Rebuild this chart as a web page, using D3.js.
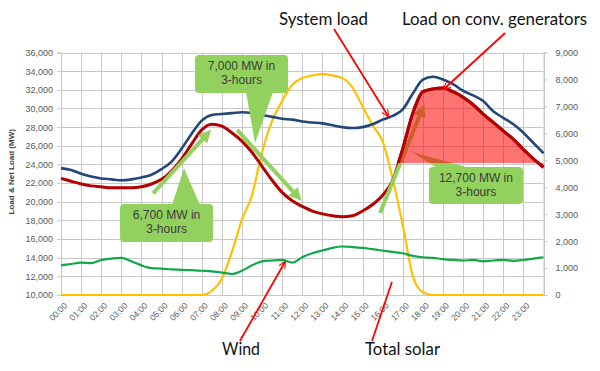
<!DOCTYPE html>
<html>
<head>
<meta charset="utf-8">
<script src="https://cdn.jsdelivr.net/npm/d3@7/dist/d3.min.js"></script>
<style>
body { margin: 0; background: #fff; }
</style>
</head>
<body>
<div id="svg-container"></div>
<script>
// half-hour steps through the day
const hours = d3.range(0, 24.01, 0.5);

// left axis (MW)
const systemLoad = [
    23600, 23400, 23000, 22700, 22500, 22400, 22300, 22400, 22600, 22900,
    23500, 24300, 25700, 27300, 28700, 29300, 29400, 29500, 29600, 29500,
    29300, 29100, 28900, 28800, 28600, 28500, 28400, 28200, 28000, 27900,
    28000, 28300, 28800, 29200, 29900, 31600, 33100, 33400, 33100, 32600,
    31900, 31400, 30800, 29700, 29000, 28300, 27400, 26300, 25200
];
const netLoad = [
    22500, 22200, 21900, 21700, 21600, 21500, 21500, 21500, 21600, 21900,
    22400, 23300, 24600, 26200, 27700, 28300, 28100, 27400, 26500, 25300,
    23800, 22300, 21000, 20100, 19500, 19000, 18700, 18500, 18400, 18500,
    19000, 19700, 20700, 22300, 25700, 29500, 31800, 32100, 32200, 31800,
    31200, 30400, 29400, 28500, 27600, 26700, 25600, 24600, 23700
];

// right axis (MW)
const solar = [
    0, 0, 0, 0, 0, 0, 0, 0, 0, 0,
    0, 0, 0, 0, 0, 150, 600, 1600, 2800, 3700,
    5300, 6450, 7200, 7800, 8050, 8150, 8200, 8150, 8050, 7700,
    7000, 6300, 5700, 4300, 2600, 700, 100, 0, 0, 0,
    0, 0, 0, 0, 0, 0, 0, 0, 0
];
const wind = [
    1100, 1150, 1200, 1180, 1300, 1350, 1380, 1250, 1100, 1000,
    980, 950, 930, 920, 900, 880, 830, 780, 900, 1100,
    1250, 1280, 1300, 1200, 1400, 1550, 1650, 1750, 1800, 1780,
    1750, 1700, 1650, 1600, 1550, 1450, 1400, 1380, 1330, 1300,
    1280, 1300, 1250, 1280, 1300, 1270, 1300, 1350, 1400
];

const hourLabels = [
    '00:00', '01:00', '02:00', '03:00', '04:00', '05:00', '06:00', '07:00',
    '08:00', '09:00', '10:00', '11:00', '12:00', '13:00', '14:00', '15:00',
    '16:00', '17:00', '18:00', '19:00', '20:00', '21:00', '22:00', '23:00'
];
const leftTicks = [10000, 12000, 14000, 16000, 18000, 20000, 22000, 24000,
    26000, 28000, 30000, 32000, 34000, 36000];
const rightTicks = [0, 1000, 2000, 3000, 4000, 5000, 6000, 7000, 8000, 9000];

// net load level where the red "conventional generators" area sits on
const rampBase = 24150;

const svgWidth = 600;
const svgHeight = 371;
const plot = { left: 61, right: 543.5, top: 52.5, bottom: 295 };

const svg = d3.select('#svg-container')
.append('svg')
.attr('width', svgWidth)
.attr('height', svgHeight)
.style('font-family', '"Liberation Sans", Arial, sans-serif');

svg.append('rect').attr('width', svgWidth).attr('height', svgHeight).attr('fill', '#fff');

const x = d3.scaleLinear().domain([0, 24]).range([plot.left, plot.right]);
const yL = d3.scaleLinear().domain([10000, 36000]).range([plot.bottom, plot.top]);
const yR = d3.scaleLinear().domain([0, 9000]).range([plot.bottom, plot.top]);

// grid
const grid = svg.append('g').attr('stroke', '#c8c8c8').attr('stroke-width', 1);
grid.selectAll('.h').data(leftTicks).enter().append('line')
.attr('x1', plot.left).attr('x2', plot.right)
.attr('y1', d => Math.round(yL(d)) + 0.5).attr('y2', d => Math.round(yL(d)) + 0.5);
grid.selectAll('.v').data(d3.range(25)).enter().append('line')
.attr('y1', plot.top).attr('y2', plot.bottom)
.attr('x1', d => Math.round(x(d)) + 0.5).attr('x2', d => Math.round(x(d)) + 0.5);

// axes
const styleAxis = (g) => {
    g.select('.domain').attr('stroke', '#c8c8c8');
    g.selectAll('.tick line').attr('stroke', '#c8c8c8');
    g.selectAll('text').attr('fill', '#595959').style('font-size', '9px')
    .style('font-family', '"Liberation Sans", Arial, sans-serif');
};

svg.append('g')
.attr('transform', `translate(${plot.left},0)`)
.call(d3.axisLeft(yL).tickValues(leftTicks).tickSize(4).tickPadding(4).tickFormat(d3.format(',')))
.call(styleAxis);

svg.append('g')
.attr('transform', `translate(${plot.right},0)`)
.call(d3.axisRight(yR).tickValues(rightTicks).tickSize(4).tickPadding(8).tickFormat(d3.format(',')))
.call(styleAxis);

const xAxis = svg.append('g')
.attr('transform', `translate(0,${plot.bottom})`)
.call(d3.axisBottom(x).tickValues(d3.range(24)).tickSize(0).tickFormat(d => hourLabels[d]))
.call(styleAxis);
xAxis.select('.domain').remove();
xAxis.selectAll('text')
.attr('text-anchor', 'end')
.attr('dy', '0.35em')
.attr('transform', 'translate(2,7) rotate(-45)')
.style('font-size', '8.5px');

svg.append('text')
.attr('transform', `translate(14,${(plot.top + plot.bottom) / 2 - 2}) rotate(-90)`)
.attr('text-anchor', 'middle')
.attr('font-size', '8px')
.attr('font-weight', 'bold')
.attr('fill', '#404040')
.text('Load & Net Load (MW)');

// series
const pts = (arr) => arr.map((v, i) => [hours[i], v]);
const lineL = d3.line().x(d => x(d[0])).y(d => yL(d[1])).curve(d3.curveMonotoneX);
const lineR = d3.line().x(d => x(d[0])).y(d => yR(d[1])).curve(d3.curveMonotoneX);

const series = svg.append('g').attr('fill', 'none').attr('stroke-linejoin', 'round');
series.append('path').attr('d', lineR(pts(solar))).attr('stroke', '#ffc000').attr('stroke-width', 2.2);
series.append('path').attr('d', lineR(pts(wind))).attr('stroke', '#12a84a').attr('stroke-width', 2.2);
series.append('path').attr('d', lineL(pts(systemLoad))).attr('stroke', '#234679').attr('stroke-width', 2.6);
series.append('path').attr('d', lineL(pts(netLoad))).attr('stroke', '#b30000').attr('stroke-width', 3);

// green ramp arrows and callouts
const lightGreen = '#93d15f';
const defs = svg.append('defs');
defs.append('marker')
.attr('id', 'greenHead')
.attr('viewBox', '0 0 10 10').attr('refX', 5).attr('refY', 5)
.attr('markerWidth', 3.2).attr('markerHeight', 3.2)
.attr('orient', 'auto')
.append('path').attr('d', 'M0,0 L10,5 L0,10 Z').attr('fill', lightGreen);
defs.append('marker')
.attr('id', 'redHead')
.attr('viewBox', '0 0 10 10').attr('refX', 9).attr('refY', 5)
.attr('markerWidth', 7).attr('markerHeight', 7)
.attr('markerUnits', 'userSpaceOnUse')
.attr('orient', 'auto')
.append('path').attr('d', 'M0,0 L10,5 L0,10').attr('fill', 'none').attr('stroke', '#ff0000').attr('stroke-width', 1.6);

// arrows in chart units: [hour, MW] -> [hour, MW]
const greenArrows = [
    [[4.58, 20900], [7.25, 27200]],
    [[8.76, 27700], [11.75, 20600]],
    [[15.87, 18800], [17.95, 29800]]
];

// callouts: centre (hour, MW), size in px, tail apex (hour, MW), tail base along an edge
const callouts = [
    { lines: ['7,000 MW in', '3-hours'], h: 8.98, v: 33700, w: 93, ht: 38, tip: [9.65, 26300], base: [[246, 92], [273, 92]] },
    { lines: ['6,700 MW in', '3-hours'], h: 5.25, v: 17720, w: 93, ht: 38, tip: [6.12, 23600], base: [[172, 205], [200, 205]] },
    { lines: ['12,700 MW in', '3-hours'], h: 20.64, v: 21740, w: 94, ht: 37, tip: [17.46, 25330], base: [[437, 168], [470, 168]] }
];

const drawArrow = (g, a) => {
    g.append('line')
    .attr('x1', x(a[0][0])).attr('y1', yL(a[0][1]))
    .attr('x2', x(a[1][0])).attr('y2', yL(a[1][1]))
    .attr('stroke', lightGreen).attr('stroke-width', 4)
    .attr('marker-end', 'url(#greenHead)');
};

const drawCallout = (g, c) => {
    const cx = x(c.h);
    const cy = yL(c.v);
    g.append('path')
    .attr('d', `M${c.base[0][0]},${c.base[0][1]} L${x(c.tip[0])},${yL(c.tip[1])} L${c.base[1][0]},${c.base[1][1]} Z`)
    .attr('fill', lightGreen);
    g.append('rect')
    .attr('x', cx - c.w / 2).attr('y', cy - c.ht / 2)
    .attr('width', c.w).attr('height', c.ht)
    .attr('rx', 4)
    .attr('fill', lightGreen);
    g.append('text')
    .attr('x', cx).attr('y', cy - 4)
    .attr('text-anchor', 'middle')
    .attr('font-size', '12px')
    .attr('fill', '#3a3a3a')
    .selectAll('tspan').data(c.lines).enter().append('tspan')
    .attr('x', cx).attr('dy', (d, i) => i === 0 ? 0 : 14)
    .text(d => d);
};

// the last ramp sits under the translucent red area
const under = svg.append('g');
drawArrow(under, greenArrows[2]);
drawCallout(under, callouts[2]);

// red area: load on conventional generators during the evening ramp
const rampPts = pts(netLoad).filter(d => d[0] >= 16.5);
rampPts[0] = [16.5 + (rampBase - 22300) / (25700 - 22300) * 0.5, rampBase];
svg.append('path')
.attr('d', d3.area().x(d => x(d[0])).y0(yL(rampBase)).y1(d => yL(d[1])).curve(d3.curveMonotoneX)(rampPts))
.attr('fill', '#ff0000')
.attr('fill-opacity', 0.55);
svg.append('path')
.attr('d', lineL(rampPts))
.attr('fill', 'none')
.attr('stroke', '#b30000')
.attr('stroke-width', 3);

const over = svg.append('g');
drawArrow(over, greenArrows[0]);
drawArrow(over, greenArrows[1]);
drawCallout(over, callouts[0]);
drawCallout(over, callouts[1]);

// red pointer annotations, in chart units
const pointers = [
    { from: [13.58, 38520], to: [16.27, 29190], head: true },
    { from: [22.09, 38090], to: [19.05, 32090], head: true },
    { from: [8.9, 5070], to: [11.14, 13540], head: true },
    { from: [15.47, 5070], to: [16.46, 11390], head: false }
];
svg.append('g').selectAll('line').data(pointers).enter().append('line')
.attr('x1', d => x(d.from[0])).attr('y1', d => yL(d.from[1]))
.attr('x2', d => x(d.to[0])).attr('y2', d => yL(d.to[1]))
.attr('stroke', '#ff0000').attr('stroke-width', 1.8)
.attr('marker-end', d => d.head ? 'url(#redHead)' : null);

const labels = [
    { text: 'System load', x: 279, y: 25, len: 89 },
    { text: 'Load on conv. generators', x: 402, y: 25, len: 185 },
    { text: 'Wind', x: 222, y: 355, len: 38 },
    { text: 'Total solar', x: 365, y: 355, len: 75 }
];
svg.append('g').selectAll('text').data(labels).enter().append('text')
.attr('x', d => d.x).attr('y', d => d.y)
.attr('textLength', d => d.len)
.attr('lengthAdjust', 'spacingAndGlyphs')
.style('font-family', 'Lato, "Open Sans", sans-serif')
.style('font-size', '17px')
.attr('fill', '#111')
.text(d => d.text);
</script>
</body>
</html>
